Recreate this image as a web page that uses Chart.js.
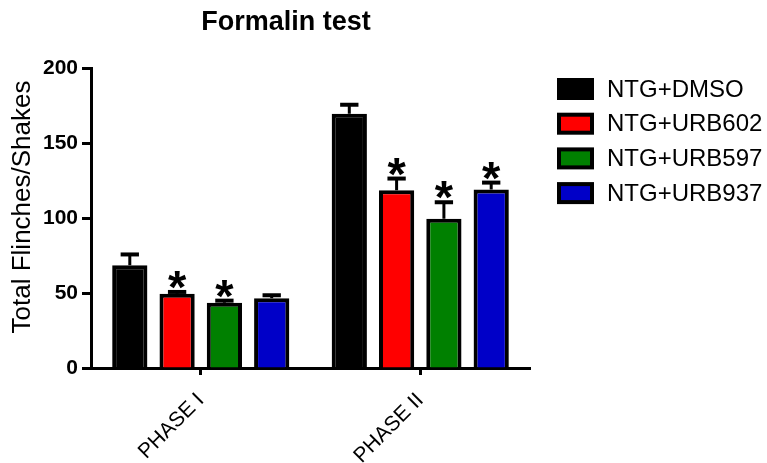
<!DOCTYPE html>
<html>
<head>
<meta charset="utf-8">
<title>Formalin test</title>
<script src="https://cdn.jsdelivr.net/npm/chart.js@4.4.1/dist/chart.umd.min.js"></script>
<style>
  html, body { margin: 0; padding: 0; background: #fff; }
  #wrap { width: 767px; height: 463px; position: relative; }
</style>
</head>
<body>
<div id="wrap"><canvas id="grafico"></canvas></div>
<script>
// dados
const fases = ["PHASE I", "PHASE II"];
const grupos = ["NTG+DMSO", "NTG+URB602", "NTG+URB597", "NTG+URB937"];
const cores = ["#000000", "#FF0000", "#008000", "#0000C8"];

const mediaDMSO = [68.5, 169.5];
const mediaURB602 = [49.5, 118.5];
const mediaURB597 = [43.5, 99.5];
const mediaURB937 = [46.5, 119];

const erroDMSO = [7.2, 6];
const erroURB602 = [1.2, 7.8];
const erroURB597 = [1.4, 11];
const erroURB937 = [2, 4.6];

const estrelaDMSO = [false, false];
const estrelaURB602 = [true, true];
const estrelaURB597 = [true, true];
const estrelaURB937 = [false, true];

const yTicks = [0, 50, 100, 150, 200];

const FONTE = '"Liberation Sans", Arial, sans-serif';

(function () {
  const medias = [mediaDMSO, mediaURB602, mediaURB597, mediaURB937];
  const erros = [erroDMSO, erroURB602, erroURB597, erroURB937];
  const estrelas = [estrelaDMSO, estrelaURB602, estrelaURB597, estrelaURB937];

  // barras de erro (só para cima) + asteriscos
  const errosPlugin = {
    id: "errosPlugin",
    afterDatasetsDraw(chart) {
      const ctx = chart.ctx;
      const y = chart.scales.y;
      ctx.save();
      ctx.strokeStyle = "#000";
      ctx.fillStyle = "#000";
      ctx.lineCap = "butt";

      // tamanho do asterisco: ~18px de altura
      ctx.font = "bold 100px " + FONTE;
      const ref = ctx.measureText("*");
      const tam = Math.round(100 * 18 / (ref.actualBoundingBoxAscent + ref.actualBoundingBoxDescent));

      chart.data.datasets.forEach((ds, di) => {
        const meta = chart.getDatasetMeta(di);
        meta.data.forEach((bar, i) => {
          const topo = y.getPixelForValue(medias[di][i] + erros[di][i]);
          const base = y.getPixelForValue(medias[di][i]);
          const meia = bar.width * 0.26;
          ctx.lineWidth = 3;
          ctx.beginPath();
          ctx.moveTo(bar.x, base);
          ctx.lineTo(bar.x, topo);
          ctx.stroke();
          ctx.lineWidth = 4;
          ctx.beginPath();
          ctx.moveTo(bar.x - meia, topo);
          ctx.lineTo(bar.x + meia, topo);
          ctx.stroke();

          if (estrelas[di][i]) {
            ctx.font = "bold " + tam + "px " + FONTE;
            ctx.textAlign = "center";
            ctx.textBaseline = "alphabetic";
            const m = ctx.measureText("*");
            const centro = topo - 12;
            const baseline = centro + (m.actualBoundingBoxAscent - m.actualBoundingBoxDescent) / 2;
            ctx.fillText("*", bar.x, baseline);
          }
        });
      });
      ctx.restore();
    }
  };

  // título, título do eixo y e legenda na posição do original
  const extrasPlugin = {
    id: "extrasPlugin",
    afterDraw(chart) {
      const ctx = chart.ctx;
      ctx.save();
      ctx.fillStyle = "#000";
      ctx.font = "bold 27px " + FONTE;
      ctx.textAlign = "center";
      ctx.textBaseline = "middle";
      ctx.fillText("Formalin test", 286, 23);

      ctx.save();
      ctx.translate(23, 207);
      ctx.rotate(-Math.PI / 2);
      ctx.font = "26px " + FONTE;
      ctx.fillText("Total Flinches/Shakes", 0, 0);
      ctx.restore();

      ctx.font = "24px " + FONTE;
      ctx.textAlign = "left";
      grupos.forEach((g, i) => {
        const cy = 89 + i * 34.7;
        ctx.fillStyle = cores[i];
        ctx.fillRect(559, cy - 9, 33, 18);
        ctx.strokeStyle = "#000";
        ctx.lineWidth = 4;
        ctx.strokeRect(559, cy - 9, 33, 18);
        ctx.fillStyle = "#000";
        ctx.fillText(g, 607, cy + 1);
      });
      ctx.restore();
    }
  };

  const datasets = grupos.map((g, i) => ({
    label: g,
    data: medias[i],
    backgroundColor: cores[i],
    borderColor: "#000",
    borderWidth: 4,
    borderSkipped: "start",
    categoryPercentage: 0.862,
    barPercentage: 0.745
  }));

  new Chart(document.getElementById("grafico"), {
    type: "bar",
    data: { labels: fases, datasets },
    options: {
      responsive: true,
      maintainAspectRatio: false,
      animation: false,
      devicePixelRatio: 1,
      layout: { padding: { left: 0, top: 68, right: 237, bottom: 0 } },
      plugins: {
        legend: { display: false },
        title: { display: false },
        tooltip: { enabled: false }
      },
      scales: {
        x: {
          offset: true,
          grid: { display: true, drawOnChartArea: false, drawTicks: true, tickLength: 7, tickWidth: 3, tickColor: "#000", offset: false },
          border: { display: true, width: 3, color: "#000" },
          ticks: {
            color: "#000",
            font: { family: FONTE, size: 21 },
            minRotation: 45,
            maxRotation: 45,
            padding: 13
          },
          afterFit(scale) { scale.height = 95; }
        },
        y: {
          min: 0,
          max: 200,
          afterBuildTicks(scale) { scale.ticks = yTicks.map(v => ({ value: v })); },
          grid: { display: true, drawOnChartArea: false, drawTicks: true, tickLength: 9, tickWidth: 3, tickColor: "#000" },
          border: { display: true, width: 3, color: "#000" },
          ticks: {
            color: "#000",
            font: { family: FONTE, size: 21, weight: "bold" },
            padding: 4
          },
          title: { display: false },
          afterFit(scale) { scale.width = 91; }
        }
      }
    },
    plugins: [errosPlugin, extrasPlugin]
  });
})();
</script>
</body>
</html>
